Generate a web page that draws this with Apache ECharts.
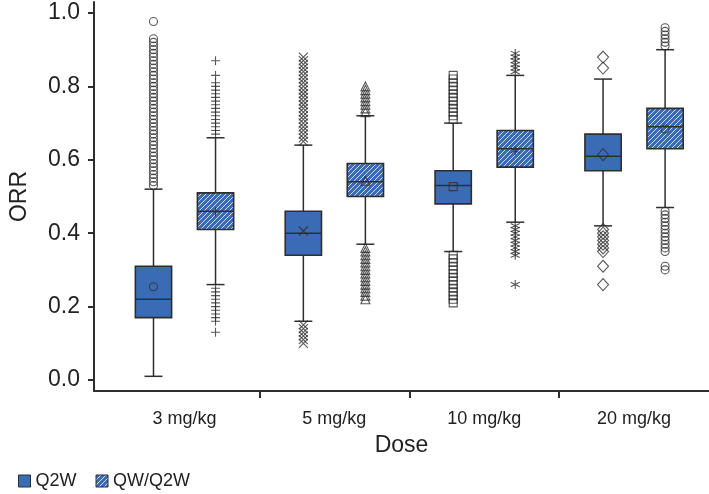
<!DOCTYPE html>
<html><head><meta charset="utf-8">
<script src="https://cdn.jsdelivr.net/npm/echarts@6/dist/echarts.min.js"></script>
<style>html,body{margin:0;padding:0;background:#fff}#c{width:709px;height:494px}</style>
</head><body><div id="c"></div>
<script>
// ---------------- data ----------------
const categories = ['3 mg/kg', '5 mg/kg', '10 mg/kg', '20 mg/kg'];
const seriesNames = ['Q2W', 'QW/Q2W'];
const yTickValues = [0.0, 0.2, 0.4, 0.6, 0.8, 1.0];

// Q2W box statistics
const q2wWhiskerLow  = [0.01, 0.16, 0.35, 0.42];
const q2wQ1          = [0.17, 0.34, 0.48, 0.57];
const q2wMedian      = [0.22, 0.40, 0.53, 0.61];
const q2wQ3          = [0.31, 0.46, 0.57, 0.67];
const q2wWhiskerHigh = [0.52, 0.64, 0.70, 0.82];
const q2wMean        = [0.254, 0.406, 0.527, 0.614];

// QW/Q2W box statistics
const qwWhiskerLow  = [0.26, 0.37, 0.43, 0.47];
const qwQ1          = [0.41, 0.50, 0.58, 0.63];
const qwMedian      = [0.46, 0.54, 0.63, 0.69];
const qwQ3          = [0.51, 0.59, 0.68, 0.74];
const qwWhiskerHigh = [0.66, 0.72, 0.83, 0.90];
const qwMean        = [0.458, 0.543, 0.625, 0.684];

// outliers (Q2W, per dose)
const q2wOut3  = [0.53,0.54,0.55,0.56,0.57,0.58,0.59,0.60,0.61,0.62,0.63,0.64,0.65,0.66,0.67,0.68,0.69,0.70,0.71,0.72,0.73,0.74,0.75,0.76,0.77,0.78,0.79,0.80,0.81,0.82,0.83,0.84,0.85,0.86,0.87,0.88,0.89,0.90,0.91,0.92,0.93,0.977];
const q2wOut5  = [0.65,0.66,0.67,0.68,0.69,0.70,0.71,0.72,0.73,0.74,0.75,0.76,0.77,0.78,0.79,0.80,0.81,0.82,0.83,0.84,0.85,0.86,0.87,0.88,0.15,0.14,0.13,0.12,0.11,0.10];
const q2wOut10 = [0.71,0.72,0.73,0.74,0.75,0.76,0.77,0.78,0.79,0.80,0.81,0.82,0.83,0.34,0.33,0.32,0.31,0.30,0.29,0.28,0.27,0.26,0.25,0.24,0.23,0.22,0.21];
const q2wOut20 = [0.85,0.88,0.41,0.40,0.39,0.38,0.37,0.36,0.35,0.31,0.26];
// outliers (QW/Q2W, per dose)
const qwOut3  = [0.67,0.68,0.69,0.70,0.71,0.72,0.73,0.74,0.75,0.76,0.77,0.78,0.79,0.80,0.81,0.83,0.87,0.25,0.24,0.23,0.22,0.21,0.20,0.19,0.18,0.17,0.16,0.13];
const qwOut5  = [0.73,0.74,0.75,0.76,0.77,0.78,0.79,0.80,0.36,0.35,0.34,0.33,0.32,0.31,0.30,0.29,0.28,0.27,0.26,0.25,0.24,0.23,0.22];
const qwOut10 = [0.84,0.85,0.86,0.87,0.88,0.89,0.42,0.41,0.40,0.39,0.38,0.37,0.36,0.35,0.34,0.26];
const qwOut20 = [0.91,0.92,0.93,0.94,0.95,0.96,0.46,0.45,0.44,0.43,0.42,0.41,0.40,0.39,0.38,0.37,0.36,0.35,0.31,0.30];

// ---------------- style ----------------
const BLUE = '#3a6cb6';
const DARK = '#2e2e2e';
const FONT = '"Liberation Sans", Arial, Helvetica, sans-serif';
const BOX_FRAC = 0.242, CAP_FRAC = 0.12, OFFSET = 0.207;

function makeHatch() {
  const s = 5;
  const cv = document.createElement('canvas');
  cv.width = s; cv.height = s;
  const ctx = cv.getContext('2d');
  ctx.fillStyle = BLUE; ctx.fillRect(0, 0, s, s);
  ctx.strokeStyle = 'rgba(255,255,255,0.75)'; ctx.lineWidth = 1;
  ctx.beginPath();
  ctx.moveTo(0, s); ctx.lineTo(s, 0);
  ctx.moveTo(-1, 1); ctx.lineTo(1, -1);
  ctx.moveTo(s - 1, s + 1); ctx.lineTo(s + 1, s - 1);
  ctx.stroke();
  return cv;
}
const hatch = { image: makeHatch(), repeat: 'repeat' };

const SYM = {
  circle: 'circle', square: 'rect', triangle: 'triangle', diamond: 'diamond',
  plus: 'path://M5,0L5,10M0,5L10,5',
  cross: 'path://M0,0L10,10M10,0L0,10',
  star: 'path://M5,0L5,10M0.67,2.5L9.33,7.5M9.33,2.5L0.67,7.5'
};

function boxData(lo, q1, med, q3, hi) {
  return categories.map((c, i) => [i, lo[i], q1[i], med[i], q3[i], hi[i]]);
}

function boxRenderer(offset, fill) {
  return function (params, api) {
    const xv = api.value(0) + 0.5 + offset;
    const band = api.size([1, 0])[0];
    const x = api.coord([xv, 0])[0];
    const yLo = api.coord([xv, api.value(1)])[1];
    const yQ1 = api.coord([xv, api.value(2)])[1];
    const yMed = api.coord([xv, api.value(3)])[1];
    const yQ3 = api.coord([xv, api.value(4)])[1];
    const yHi = api.coord([xv, api.value(5)])[1];
    const hw = band * BOX_FRAC / 2, cw = band * CAP_FRAC / 2;
    const ls = () => ({ stroke: DARK, lineWidth: 1.5 });
    return {
      type: 'group', children: [
        { type: 'line', shape: { x1: x, y1: yLo, x2: x, y2: yQ1 }, style: ls() },
        { type: 'line', shape: { x1: x, y1: yQ3, x2: x, y2: yHi }, style: ls() },
        { type: 'line', shape: { x1: x - cw, y1: yLo, x2: x + cw, y2: yLo }, style: ls() },
        { type: 'line', shape: { x1: x - cw, y1: yHi, x2: x + cw, y2: yHi }, style: ls() },
        { type: 'rect', shape: { x: x - hw, y: yQ3, width: 2 * hw, height: yQ1 - yQ3 }, style: { fill: fill, stroke: DARK, lineWidth: 1.6 } },
        { type: 'line', shape: { x1: x - hw, y1: yMed, x2: x + hw, y2: yMed }, style: ls() }
      ]
    };
  };
}

function markSeries(catIdx, offset, outliers, mean, symbol, size) {
  const xv = catIdx + 0.5 + offset;
  return {
    type: 'scatter', symbol: symbol, symbolSize: size,
    data: outliers.concat([mean]).map(v => [xv, v]),
    itemStyle: { color: 'transparent', borderColor: DARK, borderWidth: 1.1 },
    emphasis: { disabled: true }, silent: true, z: 3
  };
}

const chart = echarts.init(document.getElementById('c'), null, { renderer: 'canvas' });
const option = {
  animation: false,
  backgroundColor: '#fff',
  textStyle: { fontFamily: FONT },
  grid: { left: 87, right: 0, top: 2, bottom: 103, containLabel: false },
  xAxis: {
    type: 'value', min: -0.104, max: 4.0,
    name: 'Dose', nameLocation: 'middle', nameGap: 43,
    nameTextStyle: { fontSize: 23, color: '#222', fontFamily: FONT },
    axisLine: { show: true, onZero: false, lineStyle: { color: DARK, width: 2 } },
    axisTick: { show: true, length: 7, lineStyle: { color: DARK, width: 2 }, customValues: [1, 2, 3] },
    axisLabel: { show: true, fontSize: 18, color: '#222', margin: 19, fontFamily: FONT,
      customValues: [0.5, 1.5, 2.5, 3.5],
      formatter: v => categories[Math.floor(v)] },
    splitLine: { show: false }
  },
  yAxis: {
    type: 'value', min: -0.03, max: 1.03,
    name: 'ORR', nameLocation: 'middle', nameGap: 63,
    nameTextStyle: { fontSize: 23, color: '#222', fontFamily: FONT },
    axisLine: { show: true, onZero: false, lineStyle: { color: DARK, width: 2 } },
    axisTick: { show: true, length: 6, lineStyle: { color: DARK, width: 2 }, customValues: yTickValues },
    axisLabel: { show: true, fontSize: 23, color: '#222', margin: 14, fontFamily: FONT,
      customValues: yTickValues, formatter: v => v.toFixed(1) },
    splitLine: { show: false }
  },
  legend: {
    left: 13, top: 467, icon: 'rect', itemWidth: 12, itemHeight: 12, itemGap: 19,
    selectedMode: false,
    textStyle: { fontSize: 18, color: '#222', fontFamily: FONT },
    data: [
      { name: seriesNames[0], itemStyle: { color: BLUE, borderColor: DARK, borderWidth: 1 } },
      { name: seriesNames[1], itemStyle: { color: hatch, borderColor: DARK, borderWidth: 1 } }
    ]
  },
  series: [
    { type: 'custom', name: seriesNames[0], renderItem: boxRenderer(-OFFSET, BLUE),
      itemStyle: { color: BLUE }, encode: { x: 0, y: [1, 2, 3, 4, 5] },
      data: boxData(q2wWhiskerLow, q2wQ1, q2wMedian, q2wQ3, q2wWhiskerHigh), z: 2, silent: true },
    { type: 'custom', name: seriesNames[1], renderItem: boxRenderer(OFFSET, hatch),
      itemStyle: { color: BLUE }, encode: { x: 0, y: [1, 2, 3, 4, 5] },
      data: boxData(qwWhiskerLow, qwQ1, qwMedian, qwQ3, qwWhiskerHigh), z: 2, silent: true },
    markSeries(0, -OFFSET, q2wOut3, q2wMean[0], SYM.circle, 8),
    markSeries(1, -OFFSET, q2wOut5, q2wMean[1], SYM.cross, 9),
    markSeries(2, -OFFSET, q2wOut10, q2wMean[2], SYM.square, 8),
    markSeries(3, -OFFSET, q2wOut20, q2wMean[3], SYM.diamond, [11, 12]),
    markSeries(0, OFFSET, qwOut3, qwMean[0], SYM.plus, 9),
    markSeries(1, OFFSET, qwOut5, qwMean[1], SYM.triangle, 9),
    markSeries(2, OFFSET, qwOut10, qwMean[2], SYM.star, 9),
    markSeries(3, OFFSET, qwOut20, qwMean[3], SYM.circle, 8)
  ]
};
chart.setOption(option);
</script></body></html>
